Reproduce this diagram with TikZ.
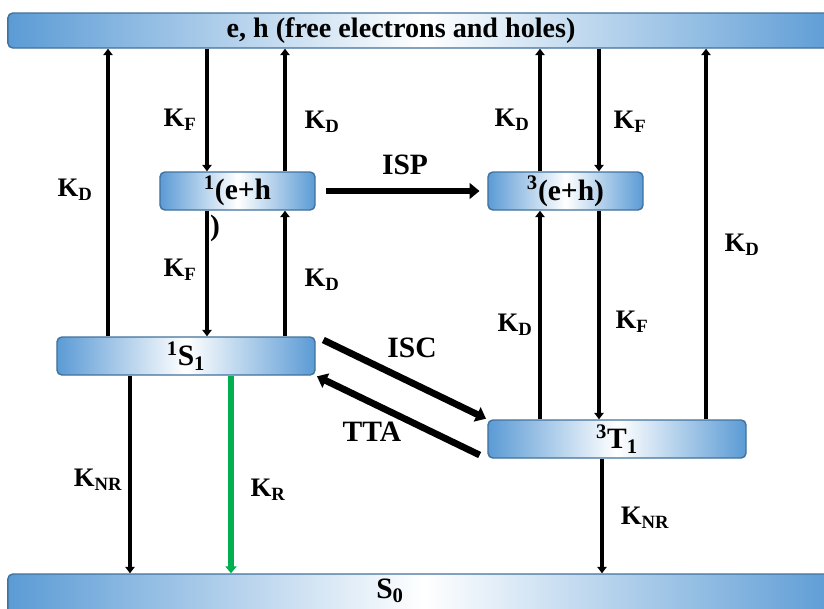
\documentclass[tikz,border=0pt]{standalone}
\usepackage{fontspec}
\setmainfont{Liberation Serif}
\usetikzlibrary{arrows.meta}
\definecolor{lvlblue}{HTML}{5B9BD5}
\definecolor{lvledge}{HTML}{41719C}
\definecolor{radgreen}{HTML}{00B050}

\begin{document}
\begin{tikzpicture}[
    x=0.025cm, y=-0.025cm,
    lvl/.style={draw=lvledge, line width=1pt, rounded corners=3.5pt,
      left color=lvlblue, right color=lvlblue, middle color=white,
      inner sep=0pt, minimum height=0.95cm,
      font=\fontsize{21}{24}\selectfont\bfseries},
    big/.style={font=\fontsize{21}{24}\selectfont\bfseries},
    rlbl/.style={font=\fontsize{19}{22}\selectfont\bfseries},
    rate/.style={line width=2.5pt, -{Triangle[length=4.5pt,width=6.5pt]}},
    xfer/.style={line width=4.8pt, -{Triangle[length=7pt,width=11pt]}},
  ]
  \useasboundingbox (0,0) rectangle (824,608);

  % continuum and ground state bars
  \node[lvl, minimum width=20.8cm, minimum height=0.875cm] (bar) at (424,30.5) {};
  \node[big, font=\fontsize{20}{24}\selectfont\bfseries] (barlbl) at (401,31) {e, h (free electrons and holes)};
  \node[lvl, minimum width=20.8cm, minimum height=1.2cm] (s0) at (424,598) {};
  \node[big] (s0lbl) at (390,591) {S\textsubscript{0}};

  % levels
  \node[lvl, minimum width=3.875cm] (eh1) at (237.5,191) {\textsuperscript{1}(e+h};
  \node[big] (paren) at (215,228) {)};
  \node[lvl, minimum width=3.875cm] (eh3) at (565.5,191) {\textsuperscript{3}(e+h)};
  \node[lvl, minimum width=6.45cm] (s1) at (186,356) {\textsuperscript{1}S\textsubscript{1}};
  \node[lvl, minimum width=6.45cm] (t1) at (617,439) {\textsuperscript{3}T\textsubscript{1}};

  % arrow columns
  \coordinate (c1) at (108,0);
  \coordinate (c2) at (207,0);
  \coordinate (c3) at (285,0);
  \coordinate (c4) at (540,0);
  \coordinate (c5) at (599,0);
  \coordinate (c6) at (706,0);
  \coordinate (c7) at (130,0);
  \coordinate (c8) at (231,0);
  \coordinate (c9) at (602,0);

  % singlet side
  \draw[rate] (c1 |- s1.north) -- (c1 |- bar.south);
  \draw[rate] (c2 |- bar.south) -- (c2 |- eh1.north);
  \draw[rate] (c3 |- eh1.north) -- (c3 |- bar.south);
  \draw[rate] (c2 |- eh1.south) -- (c2 |- s1.north);
  \draw[rate] (c3 |- s1.north) -- (c3 |- eh1.south);
  \draw[rate] (c7 |- s1.south) -- (c7 |- s0.north);
  \draw[radgreen, line width=4pt, -{Triangle[length=5pt,width=8pt]}] (c8 |- s1.south) -- (c8 |- s0.north);

  % triplet side
  \draw[rate] (c4 |- eh3.north) -- (c4 |- bar.south);
  \draw[rate] (c5 |- bar.south) -- (c5 |- eh3.north);
  \draw[rate] (c6 |- t1.north) -- (c6 |- bar.south);
  \draw[rate] (c4 |- t1.north) -- (c4 |- eh3.south);
  \draw[rate] (c5 |- eh3.south) -- (c5 |- t1.north);
  \draw[rate] (c9 |- t1.south) -- (c9 |- s0.north);

  % rate labels
  \foreach \x/\y/\t [count=\i] in {75/190/D, 180/120/F, 322/122/D, 180/270/F,
      322/280/D, 512/120/D, 630/122/F, 742/245/D, 515/325/D, 632/322/F,
      98/480/NR, 268/490/R, 645/518/NR} {
    \node[rlbl] (k\i) at (\x,\y) {K\textsubscript{\t}};
  }

  % spin conversions
  \draw[xfer, shorten <=7pt, shorten >=5.5pt] (eh1.east) -- (eh3.west);
  \draw[xfer, shorten <=6pt, shorten >=1pt] (s1.north east) -- (t1.north west);
  \draw[xfer, shorten <=6pt, shorten >=1pt] (t1.south west) -- (s1.south east);
  \node[big] (isp) at (405,165) {ISP};
  \node[big] (isc) at (412,348) {ISC};
  \node[big] (tta) at (372,432) {TTA};
\end{tikzpicture}
\end{document}
